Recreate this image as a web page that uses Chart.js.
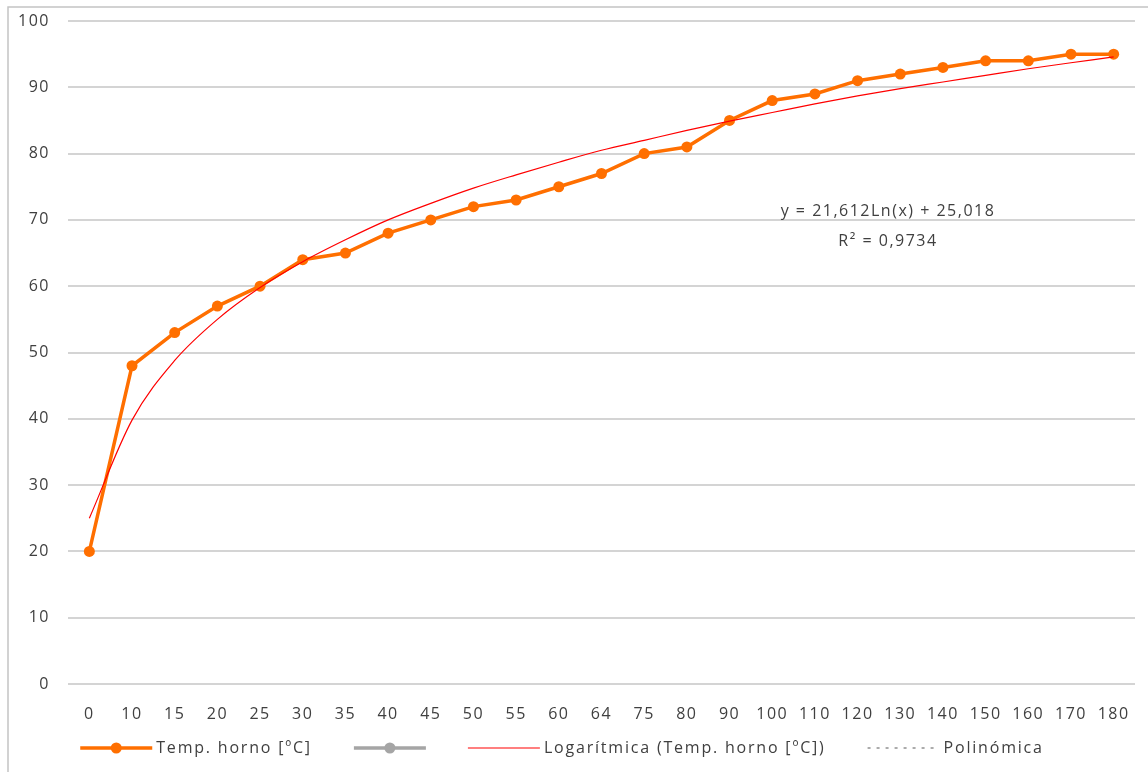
<!DOCTYPE html>
<html>
<head>
<meta charset="utf-8">
<script src="https://cdn.jsdelivr.net/npm/chart.js@4/dist/chart.umd.min.js"></script>
<style>
  html, body { margin: 0; padding: 0; background: #fff; }
  canvas { display: block; }
</style>
</head>
<body>
<canvas id="chart" width="1148" height="772"></canvas>
<script>
var categories = ['0', '10', '15', '20', '25', '30', '35', '40', '45', '50', '55', '60', '64',
                  '75', '80', '90', '100', '110', '120', '130', '140', '150', '160', '170', '180'];

// Temp. horno [ºC]
var tempHorno = [20, 48, 53, 57, 60, 64, 65, 68, 70, 72, 73, 75, 77,
                 80, 81, 85, 88, 89, 91, 92, 93, 94, 94, 95, 95];

// logarithmic trend line
var tendenciaLog = [25, 39.8, 48.8, 55, 59.8, 63.7, 67, 70, 72.5, 74.8, 76.8, 78.7, 80.5,
                    82, 83.5, 84.9, 86.2, 87.5, 88.7, 89.8, 90.8, 91.8, 92.8, 93.7, 94.6];

var seriesNames = ['Temp. horno [ºC]', '', 'Logarítmica (Temp. horno [ºC])', 'Polinómica'];
var trendLabel = ['y = 21,612Ln(x) + 25,018', 'R² = 0,9734'];
var yTicks = [0, 100, 10]; // min, max, step

var textColor = '#404040';
var fontFamily = '"Open Sans", "Noto Sans", sans-serif';

// Excel spreads its letters a bit, do the same for every text on the canvas
var spacing = {
    id: 'spacing',
    beforeDraw: function(chart) { chart.ctx.letterSpacing = '1.5px'; }
};

// frame around the chart, equation text and the legend row
var extras = {
    id: 'extras',
    afterDraw: function(chart) {
        var ctx = chart.ctx;
        ctx.save();
        ctx.letterSpacing = '1.5px';

        ctx.strokeStyle = '#c4c4c4';
        ctx.lineWidth = 1.5;
        ctx.strokeRect(8, 7, 1300, 900);

        // trend equation
        ctx.fillStyle = textColor;
        ctx.font = '16px ' + fontFamily;
        ctx.textAlign = 'center';
        ctx.textBaseline = 'middle';
        ctx.fillText(trendLabel[0], 888, 211);
        ctx.fillText(trendLabel[1], 888, 241);

        // legend
        var y = 748;
        var sym = 72, gapText = 4, gapItem = 42;
        ctx.letterSpacing = '1.8px';
        var items = chart.data.datasets.map(function(ds) {
            var w = ctx.measureText(ds.label).width;
            return { ds: ds, w: ds.label ? w + gapText : 0 };
        });
        var total = 0;
        items.forEach(function(it, i) {
            total += sym + it.w + (i < items.length - 1 ? gapItem : 0);
        });
        var x = 562 - total / 2;
        items.forEach(function(it) {
            var ds = it.ds;
            ctx.beginPath();
            ctx.setLineDash(ds.borderDash || []);
            ctx.strokeStyle = ds.borderColor;
            ctx.lineWidth = ds.borderWidth;
            ctx.moveTo(x, y);
            ctx.lineTo(x + sym, y);
            ctx.stroke();
            ctx.setLineDash([]);
            if (ds.legendDot) {
                ctx.beginPath();
                ctx.fillStyle = ds.borderColor;
                ctx.arc(x + sym / 2, y, 5.5, 0, Math.PI * 2);
                ctx.fill();
            }
            x += sym;
            if (ds.label) {
                ctx.fillStyle = textColor;
                ctx.textAlign = 'left';
                ctx.fillText(ds.label, x + gapText, y);
                x += it.w;
            }
            x += gapItem;
        });
        ctx.restore();
    }
};

var ctx = document.getElementById('chart').getContext('2d');
var chart1 = new Chart(ctx, {
    type: 'line',
    data: {
        labels: categories,
        datasets: [{
            label: seriesNames[0],
            data: tempHorno,
            borderColor: '#ff6f00',
            backgroundColor: '#ff6f00',
            borderWidth: 3.5,
            pointRadius: 5.5,
            pointBorderWidth: 0,
            pointBackgroundColor: '#ff6f00',
            legendDot: true,
            order: 2
        }, {
            label: seriesNames[1],
            data: [],
            borderColor: '#a5a5a5',
            borderWidth: 3.5,
            pointRadius: 0,
            legendDot: true,
            order: 3
        }, {
            label: seriesNames[2],
            data: tendenciaLog,
            borderColor: '#ff0000',
            borderWidth: 1.2,
            pointRadius: 0,
            cubicInterpolationMode: 'monotone',
            order: 1
        }, {
            label: seriesNames[3],
            data: [],
            borderColor: '#595959',
            borderWidth: 1,
            borderDash: [3, 6],
            pointRadius: 0,
            order: 4
        }]
    },
    options: {
        animation: false,
        responsive: false,
        layout: { padding: { top: 21, right: 13, left: 0, bottom: 0 } },
        plugins: {
            legend: { display: false },
            tooltip: { enabled: false }
        },
        scales: {
            x: {
                offset: true,
                grid: { display: false },
                border: { display: false },
                ticks: {
                    color: textColor,
                    font: { family: fontFamily, size: 16 },
                    padding: 13,
                    maxRotation: 0,
                    autoSkip: false
                },
                afterFit: function(scale) { scale.height = 88; }
            },
            y: {
                min: yTicks[0],
                max: yTicks[1],
                grid: { color: '#d4d4d4', lineWidth: 2, drawTicks: false },
                border: { display: false },
                ticks: {
                    stepSize: yTicks[2],
                    color: textColor,
                    font: { family: fontFamily, size: 16 },
                    padding: 18
                },
                afterFit: function(scale) {
                    scale.width = 68;
                    scale.paddingTop = 0;
                    scale.paddingBottom = 0;
                }
            }
        }
    },
    plugins: [spacing, extras]
});
</script>
</body>
</html>
